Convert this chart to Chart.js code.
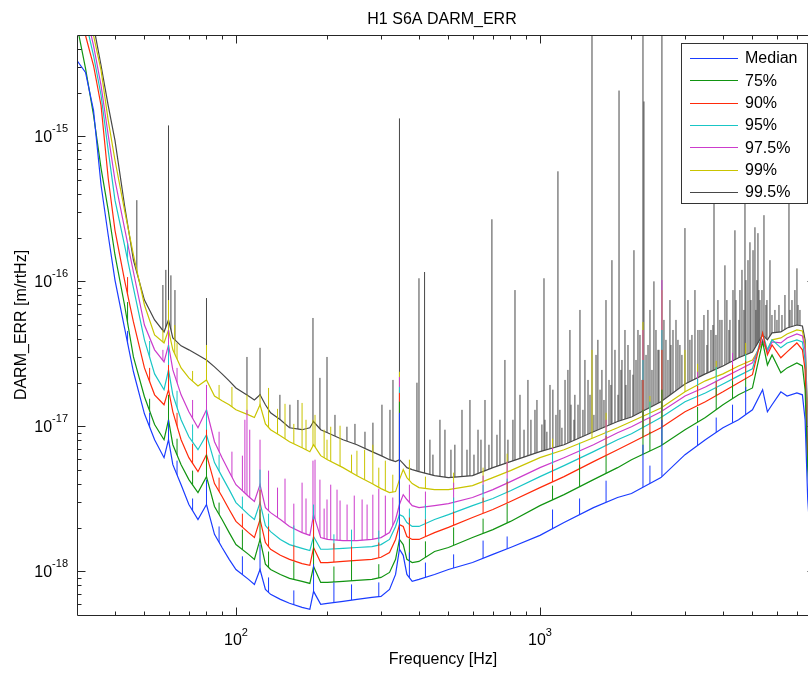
<!DOCTYPE html>
<html><head><meta charset="utf-8">
<script src="https://cdn.jsdelivr.net/npm/chart.js@4.4.1/dist/chart.umd.min.js"></script>
<style>
html,body{margin:0;padding:0;overflow:hidden;background:#fff;}
#wrap{position:relative;width:824px;height:674px;}
</style></head><body>
<div id="wrap"><canvas id="c"></canvas></div>
<script>
// ---------- data (m/rtHz) ----------
const freqs = [30,32,34,36,38,40,43,46,50,54,58,60,62,66,70,75,80,85,90,95,100,110,115,120,125,130,140,150,165,175,180,190,200,225,250,280,300,320,335,345,355,365,380,400,450,500,600,700,800,1000,1200,1500,1800,2000,2500,3000,3500,4000,4500,5000,5400,5600,5800,6200,6500,7000,7300,7450,7600,8000];

const median = [3.33e-15,2.76e-15,1.51e-15,4.60e-16,2.08e-16,1.02e-16,4.77e-17,2.38e-17,1.22e-17,8.09e-18,6.08e-18,8.09e-18,5.44e-18,3.96e-18,2.89e-18,2.28e-18,2.89e-18,1.80e-18,1.46e-18,1.21e-18,1.03e-18,8.80e-19,8.13e-19,1.03e-18,7.51e-19,6.94e-19,6.41e-19,6.02e-19,5.65e-19,5.47e-19,7.28e-19,5.92e-19,6.02e-19,6.21e-19,6.41e-19,6.62e-19,6.72e-19,7.51e-19,9.52e-19,1.42e-18,1.29e-18,9.52e-19,8.53e-19,8.80e-19,9.52e-19,1.03e-18,1.15e-18,1.31e-18,1.46e-18,1.77e-18,2.17e-18,2.75e-18,3.23e-18,3.44e-18,4.43e-18,6.38e-18,8.09e-18,9.78e-18,1.11e-17,1.30e-17,1.79e-17,1.26e-17,1.41e-17,1.73e-17,1.62e-17,1.70e-17,1.65e-17,1.11e-17,3.13e-18,6.41e-19];

const p75 = [5.80e-15,2.94e-15,1.40e-15,6.02e-16,3.10e-16,1.52e-16,6.87e-17,3.01e-17,1.60e-17,1.03e-17,8.09e-18,1.11e-17,7.47e-18,5.44e-18,4.29e-18,3.49e-18,4.50e-18,2.80e-18,2.28e-18,1.85e-18,1.53e-18,1.31e-18,1.21e-18,1.66e-18,1.12e-18,1.03e-18,9.52e-19,8.94e-19,8.53e-19,8.26e-19,1.08e-18,8.39e-19,8.39e-19,8.53e-19,8.66e-19,8.80e-19,9.08e-19,9.83e-19,1.21e-18,1.66e-18,1.53e-18,1.21e-18,1.15e-18,1.17e-18,1.37e-18,1.46e-18,1.71e-18,1.94e-18,2.21e-18,2.84e-18,3.38e-18,4.29e-18,5.19e-18,5.89e-18,7.35e-18,9.48e-18,1.15e-17,1.41e-17,1.65e-17,1.84e-17,3.82e-17,2.65e-17,3.11e-17,2.34e-17,2.53e-17,2.74e-17,2.61e-17,1.79e-17,5.03e-18,1.03e-18];

const p90 = [8.63e-15,4.96e-15,3.08e-15,1.63e-15,5.14e-16,2.25e-16,1.02e-16,5.25e-17,2.53e-17,1.65e-17,1.41e-17,1.79e-17,1.26e-17,8.09e-18,6.08e-18,4.87e-18,6.38e-18,4.03e-18,3.28e-18,2.67e-18,2.21e-18,1.85e-18,1.71e-18,2.28e-18,1.58e-18,1.42e-18,1.29e-18,1.21e-18,1.13e-18,1.10e-18,1.46e-18,1.15e-18,1.15e-18,1.17e-18,1.19e-18,1.21e-18,1.25e-18,1.35e-18,1.66e-18,2.10e-18,2.04e-18,1.74e-18,1.66e-18,1.66e-18,1.85e-18,2.01e-18,2.35e-18,2.67e-18,3.03e-18,3.78e-18,4.50e-18,5.71e-18,6.90e-18,7.71e-18,9.78e-18,1.26e-17,1.48e-17,1.73e-17,2.00e-17,2.27e-17,4.41e-17,3.11e-17,3.64e-17,2.97e-17,3.26e-17,3.76e-17,3.37e-17,2.45e-17,5.89e-18,1.21e-18];

const p95 = [1.09e-14,6.28e-15,3.61e-15,1.92e-15,8.01e-16,3.63e-16,1.78e-16,9.00e-17,3.95e-17,2.30e-17,1.79e-17,2.45e-17,1.65e-17,1.11e-17,8.48e-18,6.90e-18,8.75e-18,5.62e-18,4.50e-18,3.66e-18,2.98e-18,2.46e-18,2.28e-18,2.98e-18,2.07e-18,1.88e-18,1.66e-18,1.53e-18,1.44e-18,1.39e-18,1.74e-18,1.42e-18,1.42e-18,1.44e-18,1.46e-18,1.48e-18,1.53e-18,1.66e-18,2.04e-18,2.46e-18,2.39e-18,2.17e-18,2.04e-18,2.04e-18,2.28e-18,2.46e-18,2.84e-18,3.18e-18,3.60e-18,4.50e-18,5.36e-18,6.69e-18,8.09e-18,8.89e-18,1.15e-17,1.48e-17,1.70e-17,1.96e-17,2.23e-17,2.49e-17,4.41e-17,3.37e-17,3.95e-17,3.48e-17,3.76e-17,3.95e-17,3.82e-17,2.87e-17,6.90e-18,1.42e-18];

const p975 = [1.28e-14,7.36e-15,4.23e-15,2.24e-15,1.02e-15,4.98e-16,2.33e-16,1.16e-16,5.00e-17,3.37e-17,2.78e-17,3.64e-17,2.45e-17,1.65e-17,1.26e-17,9.78e-18,1.30e-17,7.83e-18,6.08e-18,4.87e-18,3.96e-18,3.28e-18,3.03e-18,3.96e-18,2.75e-18,2.54e-18,2.28e-18,2.04e-18,1.85e-18,1.77e-18,2.46e-18,1.71e-18,1.66e-18,1.63e-18,1.63e-18,1.66e-18,1.71e-18,1.85e-18,2.28e-18,2.89e-18,3.38e-18,3.13e-18,2.84e-18,2.75e-18,2.84e-18,2.93e-18,3.23e-18,3.66e-18,4.16e-18,5.19e-18,6.08e-18,7.47e-18,9.04e-18,9.94e-18,1.26e-17,1.62e-17,1.87e-17,2.16e-17,2.45e-17,2.74e-17,3.95e-17,3.26e-17,3.82e-17,3.76e-17,4.07e-17,4.34e-17,4.20e-17,3.37e-17,8.09e-18,1.66e-18];

const p99 = [1.63e-14,9.34e-15,4.96e-15,2.85e-15,1.29e-15,6.84e-16,3.10e-16,1.52e-16,6.87e-17,4.27e-17,3.76e-17,4.62e-17,3.37e-17,2.53e-17,2.16e-17,1.90e-17,2.09e-17,1.62e-17,1.50e-17,1.41e-17,1.30e-17,1.20e-17,1.15e-17,1.41e-17,1.04e-17,9.48e-18,8.62e-18,7.83e-18,7.12e-18,6.69e-18,7.47e-18,6.28e-18,5.89e-18,5.19e-18,4.57e-18,4.03e-18,3.72e-18,3.49e-18,3.55e-18,4.29e-18,5.03e-18,4.43e-18,4.03e-18,3.78e-18,3.66e-18,3.66e-18,3.90e-18,4.43e-18,4.95e-18,6.08e-18,6.90e-18,8.35e-18,9.78e-18,1.08e-17,1.34e-17,1.73e-17,2.06e-17,2.30e-17,2.61e-17,2.87e-17,3.76e-17,3.37e-17,3.95e-17,4.07e-17,4.34e-17,4.62e-17,4.55e-17,3.64e-17,9.48e-18,1.94e-18];

const p995 = [1.91e-14,1.09e-14,5.80e-15,3.08e-15,1.63e-15,9.39e-16,3.35e-16,1.40e-16,7.43e-17,5.42e-17,4.48e-17,5.42e-17,4.07e-17,3.59e-17,3.37e-17,3.11e-17,2.87e-17,2.57e-17,2.30e-17,2.06e-17,1.84e-17,1.62e-17,1.52e-17,1.65e-17,1.41e-17,1.24e-17,1.11e-17,9.78e-18,9.48e-18,9.78e-18,1.08e-17,9.48e-18,9.04e-18,8.09e-18,7.47e-18,6.69e-18,6.28e-18,5.89e-18,5.71e-18,5.89e-18,5.53e-18,5.19e-18,5.03e-18,4.87e-18,4.57e-18,4.43e-18,4.57e-18,5.19e-18,5.71e-18,6.69e-18,7.47e-18,9.18e-18,1.08e-17,1.16e-17,1.48e-17,1.96e-17,2.30e-17,2.61e-17,2.97e-17,3.26e-17,4.27e-17,3.95e-17,4.41e-17,4.48e-17,4.77e-17,5.00e-17,4.92e-17,3.95e-17,1.11e-17,2.28e-18];

// narrow spectral lines: frequency and peak value
const lineFreqsLow = [60,80,120,180,345,2182,2519];
const medianPeaks = [1.11e-17,4.29e-18,1.53e-18,1.12e-18,1.24e-17,7.47e-18,1.11e-17];
const p75Peaks    = [1.65e-17,6.38e-18,2.67e-18,1.66e-18,1.48e-17,1.30e-17,1.79e-17];
const p90Peaks    = [2.65e-17,9.48e-18,3.66e-18,2.28e-18,1.70e-17,2.09e-17,3.37e-17];
const p95Peaks    = [3.64e-17,1.30e-17,5.03e-18,2.89e-18,1.87e-17,2.87e-17,4.62e-17];

// comb of smaller lines shared by the lower percentiles
const combFreqs  = [44,52,64,72,88,105,128,155,210,240,295,372,420,520,650,780,1100,1350,1650,2300,3300,3800,4300,4750];
const medianComb = [4.55e-17,1.24e-17,5.80e-18,3.18e-18,2.04e-18,1.27e-18,9.08e-19,7.39e-19,8.39e-19,8.13e-19,8.39e-19,1.35e-18,1.15e-18,1.31e-18,1.63e-18,1.74e-18,2.67e-18,3.18e-18,4.22e-18,5.36e-18,1.01e-17,1.15e-17,1.41e-17,1.87e-17];
const p75Comb    = [7.20e-17,1.55e-17,8.22e-18,4.95e-18,2.98e-18,1.94e-18,1.37e-18,1.17e-18,1.08e-18,1.19e-18,1.12e-18,1.68e-18,1.61e-18,2.01e-18,2.31e-18,2.93e-18,3.90e-18,5.44e-18,6.28e-18,9.18e-18,1.36e-17,1.84e-17,2.06e-17,2.16e-17];
const p90Comb    = [1.07e-16,2.53e-17,1.24e-17,7.59e-18,4.43e-18,2.50e-18,2.04e-18,1.51e-18,1.56e-18,1.48e-18,1.58e-18,2.35e-18,2.28e-18,2.58e-18,3.23e-18,4.16e-18,5.44e-18,6.38e-18,8.62e-18,1.15e-17,1.90e-17,2.06e-17,2.65e-17,2.83e-17];
const p95Comb    = [1.83e-16,3.88e-17,1.76e-17,1.03e-17,6.38e-18,3.28e-18,2.50e-18,2.07e-18,1.80e-18,1.94e-18,1.91e-18,2.71e-18,2.89e-18,3.23e-18,3.96e-18,4.36e-18,6.69e-18,7.71e-18,9.33e-18,1.48e-17,2.13e-17,2.57e-17,2.65e-17,3.16e-17];

const p975PeakFreqs = [57.5,60,80,107,108.7,111,120,179.2,182,188.9,199.3,215,232,260,282,345,2182,2519,
  64,72,88,97,105,128,137,145,155,165,170,195,205,220,245,270,295,310,328,372,420,520,650,780,1100,1650,3300,4300];
const p975Peaks = [3.37e-17,4.62e-17,1.93e-17,1.11e-17,1.30e-17,9.48e-18,8.09e-18,5.80e-18,5.89e-18,4.29e-18,3.13e-18,3.66e-18,2.89e-18,3.13e-18,3.38e-18,2.19e-17,4.62e-17,1.02e-16,
  2.53e-17,1.52e-17,9.18e-18,6.69e-18,6.28e-18,4.95e-18,3.78e-18,4.36e-18,2.93e-18,4.09e-18,3.18e-18,2.71e-18,3.96e-18,3.08e-18,3.33e-18,2.89e-18,3.72e-18,3.33e-18,3.23e-18,3.96e-18,3.55e-18,4.09e-18,4.57e-18,5.71e-18,7.12e-18,1.11e-17,2.38e-17,3.21e-17];

const p99PeakFreqs = [57.5,60,62.9,80,108.7,120,179.2,182,199.3,240,282,345,1483,2182,2519,2999,
  64,72,88,97,128,137,145,155,165,170,195,205,220,250,265,295,310,328,372,420,520,650,780,1100,1650,2300,3300,3800,4750];
const p99Peaks = [4.62e-17,7.43e-17,5.00e-17,3.64e-17,1.65e-17,1.65e-17,1.11e-17,1.20e-17,8.09e-18,6.38e-18,7.47e-18,2.38e-17,3.37e-17,5.25e-17,8.71e-17,3.37e-17,
  3.76e-17,2.41e-17,1.93e-17,1.87e-17,1.84e-17,1.32e-17,1.43e-17,1.04e-17,1.45e-17,1.11e-17,9.48e-18,9.94e-18,1.01e-17,6.79e-18,6.90e-18,5.19e-18,5.80e-18,4.64e-18,5.89e-18,4.50e-18,4.79e-18,5.19e-18,6.48e-18,8.22e-18,1.24e-17,1.62e-17,2.70e-17,2.83e-17,3.76e-17];

const p995PeakFreqs = [47.2,57.5,58.8,60,61.1,63,80,108.7,120,179.2,188.9,199.3,231.8,282.2,302.2,345,393.9,400,417.3,434.6,468.9,487,525,554,588.5,625.5,659.5,695,738.6,767,827.7,859.6,913,963,1031,1079,1146,1209,1255,1303,1354,1406,1483,1551,1599,1649,1725,1765,1820,1904,1948,2038,2101,2182,2198,2301,2371,2408,2519,2597,2677,2802,2999,3114,3235,3360,3569,3737,3850,4060,4217,4379,4548,4725,4907,5096,5213,5293,5456,5710,5929,6253,6594,6745,7005,7166,
  139.5,150.5,159.9,211.7,246.3,265.7,321.1,328.5,977.5,1038.5,1103,1163,1236,1334,1439,1529,1687,1861,1978,2133,2267,2445,2558,2739,2887,3068,3309,3463,3652,3909,4121,4315,4619,4834,5022,5174,5374,5581,6113,6396,6898,
  1015,1054,1129,1181,1265,1294,1385,1461,1505,1576,1624,1712,1806,1847,1918,2023,2070,2166,2233,2336,2463,2637,2697,2844,2931,3162,3412,3543,3708,3793,3969,4185,4413,4514,4689,4760,4944,5134,5252,5538,5797,6021,6644,7061,
  444.6,509.6,575.4,606.7,639.7,679.6,722.1,784.7,815,886.3,934];
const p995Peaks = [3.63e-16,9.43e-17,1.20e-16,1.19e-15,1.10e-16,8.71e-17,7.67e-17,3.01e-17,3.48e-17,5.59e-17,2.16e-17,3.01e-17,9.94e-18,1.06e-17,1.41e-17,1.33e-15,2.00e-17,1.05e-16,1.16e-16,8.09e-18,1.11e-17,9.48e-18,7.47e-18,1.30e-17,1.52e-17,9.48e-18,1.52e-17,2.68e-16,1.11e-17,2.87e-17,8.71e-17,1.65e-17,2.09e-17,1.30e-17,1.05e-16,1.93e-17,5.74e-16,2.09e-17,4.62e-17,1.65e-17,6.35e-17,2.87e-17,6.28e-15,3.95e-17,2.45e-17,7.43e-17,1.40e-16,3.37e-17,2.07e-15,4.62e-17,3.64e-17,1.64e-16,4.62e-17,6.28e-15,1.74e-15,6.35e-17,1.00e-16,4.62e-17,6.28e-15,3.95e-17,7.43e-17,5.42e-17,2.33e-16,3.95e-17,8.71e-17,4.62e-17,6.35e-17,3.63e-16,7.43e-17,1.29e-16,5.42e-17,2.25e-16,8.71e-17,4.25e-16,1.86e-16,2.36e-16,2.15e-16,7.43e-17,2.86e-16,1.40e-16,6.35e-17,5.86e-17,8.01e-16,7.43e-17,1.23e-16,6.35e-17,
  1.65e-17,1.41e-17,1.52e-17,1.20e-17,1.04e-17,9.18e-18,1.30e-17,2.09e-17,1.52e-17,1.11e-17,1.79e-17,1.30e-17,2.45e-17,1.41e-17,2.09e-17,3.11e-17,2.09e-17,2.87e-17,2.45e-17,4.27e-17,3.64e-17,3.37e-17,5.42e-17,4.62e-17,3.64e-17,7.43e-17,4.62e-17,5.86e-17,4.62e-17,5.42e-17,7.43e-17,8.71e-17,1.20e-16,1.40e-16,1.64e-16,1.02e-16,8.71e-17,7.43e-17,6.87e-17,8.05e-17,8.71e-17,
  1.03e-17,9.18e-18,1.20e-17,9.78e-18,1.41e-17,1.11e-17,1.30e-17,1.65e-17,1.20e-17,1.79e-17,1.52e-17,1.93e-17,1.65e-17,2.45e-17,1.93e-17,2.27e-17,2.87e-17,2.09e-17,3.11e-17,2.45e-17,3.37e-17,2.87e-17,3.64e-17,3.95e-17,3.11e-17,4.27e-17,4.62e-17,3.64e-17,5.00e-17,4.27e-17,5.42e-17,4.62e-17,7.43e-17,5.42e-17,6.35e-17,1.02e-16,7.43e-17,6.35e-17,8.71e-17,6.87e-17,5.86e-17,5.42e-17,6.35e-17,6.87e-17,
  6.38e-18,6.90e-18,6.90e-18,6.38e-18,8.09e-18,7.47e-18,8.75e-18,8.09e-18,1.11e-17,9.48e-18,1.11e-17];

const labels = ['Median','75%','90%','95%','97.5%','99%','99.5%'];
const colors = ['#1a3cff','#119411','#ff2a0a','#19c6c6','#cc3ccc','#c9c400','#474747'];

// axis ticks
const xMin = 30, xMax = 8000, yMin = 5e-19, yMax = 5e-15;
const xMajorTicks = [100,1000];
const xMajorExp = ['2','3'];
const xMinorTicks = [40,50,60,70,80,90,200,300,400,500,600,700,800,900,2000,3000,4000,5000,6000,7000,8000];
const yMajorTicks = [1e-18,1e-17,1e-16,1e-15];
const yMajorExp = ['-18','-17','-16','-15'];
const yMinorTicks = [6e-19,7e-19,8e-19,9e-19,2e-18,3e-18,4e-18,5e-18,6e-18,7e-18,8e-18,9e-18,2e-17,3e-17,4e-17,5e-17,6e-17,7e-17,8e-17,9e-17,2e-16,3e-16,4e-16,5e-16,6e-16,7e-16,8e-16,9e-16,2e-15,3e-15,4e-15];

// ---------- build datasets ----------
const seriesVals = [median,p75,p90,p95,p975,p99,p995];
const peakFreqs = [
  lineFreqsLow.concat(combFreqs), lineFreqsLow.concat(combFreqs),
  lineFreqsLow.concat(combFreqs), lineFreqsLow.concat(combFreqs),
  p975PeakFreqs, p99PeakFreqs, p995PeakFreqs];
const peakVals = [
  medianPeaks.concat(medianComb), p75Peaks.concat(p75Comb),
  p90Peaks.concat(p90Comb), p95Peaks.concat(p95Comb),
  p975Peaks, p99Peaks, p995Peaks];

const datasets = [];
seriesVals.forEach((vals, s) => {
  datasets.push({
    label: labels[s],
    data: freqs.map((f,i) => ({x:f, y:vals[i]})),
    borderColor: colors[s], borderWidth: 1.2, pointRadius: 0, tension: 0, order: s, fill: false
  });
});
seriesVals.forEach((vals, s) => {
  const pts = [];
  peakFreqs[s].forEach((f, j) => {
    // each line rises from the axis floor; it is clipped to show only above its own curve
    pts.push({x:f, y:yMin}, {x:f, y:peakVals[s][j]}, {x:f, y:null});
  });
  datasets.push({
    label: labels[s] + ' lines', parentIndex: s,
    data: pts, borderColor: colors[s], borderWidth: 1, pointRadius: 0, tension: 0,
    order: s, spanGaps: false, fill: false
  });
});

// clip each set of spectral lines to the region above its own curve
const lineClip = {
  id: 'lineClip',
  beforeDatasetDraw(chart, args) {
    const ds = chart.data.datasets[args.index];
    if (ds.parentIndex === undefined) return;
    const pts = chart.getDatasetMeta(ds.parentIndex).data;
    const ctx = chart.ctx, a = chart.chartArea;
    ctx.save();
    ctx.beginPath();
    ctx.moveTo(pts[0].x, a.top - 2000);
    pts.forEach(p => ctx.lineTo(p.x, p.y));
    ctx.lineTo(pts[pts.length - 1].x, a.top - 2000);
    ctx.closePath();
    ctx.clip();
  },
  afterDatasetDraw(chart, args) {
    const ds = chart.data.datasets[args.index];
    if (ds.parentIndex === undefined) return;
    chart.ctx.restore();
  }
};

// ---------- MATLAB-style frame, ticks, labels, legend ----------
const FONT = '"Liberation Sans", Arial, Helvetica, sans-serif';
const matlabAxes = {
  id: 'matlabAxes',
  afterDraw(chart) {
    const {ctx, chartArea: a} = chart;
    const xs = chart.scales.x, ys = chart.scales.y;
    const L = Math.round(a.left) + 0.5, R = Math.round(a.right) + 0.5;
    const T = Math.round(a.top) + 0.5, B = Math.round(a.bottom) + 0.5;
    ctx.save();
    ctx.strokeStyle = '#262626'; ctx.lineWidth = 1;
    ctx.beginPath();
    ctx.rect(L, T, R - L, B - T);
    const xt = (v, len) => { const p = Math.round(xs.getPixelForValue(v)) + 0.5;
      ctx.moveTo(p, B); ctx.lineTo(p, B - len); ctx.moveTo(p, T); ctx.lineTo(p, T + len); };
    const yt = (v, len) => { const p = Math.round(ys.getPixelForValue(v)) + 0.5;
      ctx.moveTo(L, p); ctx.lineTo(L + len, p); ctx.moveTo(R, p); ctx.lineTo(R - len, p); };
    xMajorTicks.forEach(v => xt(v, 8)); xMinorTicks.forEach(v => xt(v, 4));
    yMajorTicks.forEach(v => yt(v, 8)); yMinorTicks.forEach(v => yt(v, 4));
    ctx.stroke();

    ctx.fillStyle = '#000';
    ctx.textBaseline = 'middle';
    yMajorTicks.forEach((v, i) => {
      const p = ys.getPixelForValue(v);
      ctx.font = '16px ' + FONT; const w1 = ctx.measureText('10').width;
      ctx.font = '11px ' + FONT; const w2 = ctx.measureText(yMajorExp[i]).width;
      const x0 = a.left - 9 - w1 - w2;
      ctx.font = '16px ' + FONT; ctx.textAlign = 'left'; ctx.fillText('10', x0, p + 1);
      ctx.font = '11px ' + FONT; ctx.fillText(yMajorExp[i], x0 + w1, p - 7);
    });
    xMajorTicks.forEach((v, i) => {
      const p = xs.getPixelForValue(v);
      ctx.font = '16px ' + FONT; const w1 = ctx.measureText('10').width;
      ctx.font = '11px ' + FONT; const w2 = ctx.measureText(xMajorExp[i]).width;
      const x0 = p - (w1 + w2) / 2;
      ctx.font = '16px ' + FONT; ctx.textAlign = 'left'; ctx.fillText('10', x0, a.bottom + 26);
      ctx.font = '11px ' + FONT; ctx.fillText(xMajorExp[i], x0 + w1, a.bottom + 18);
    });
    ctx.font = '16px ' + FONT; ctx.textAlign = 'center';
    ctx.fillText('H1 S6A DARM_ERR', 442, 20);
    ctx.fillText('Frequency [Hz]', 443, 660);
    ctx.save();
    ctx.translate(22, (a.top + a.bottom) / 2);
    ctx.rotate(-Math.PI / 2);
    ctx.fillText('DARM_ERR [m/rtHz]', 0, 0);
    ctx.restore();

    const lx = 681.5, ly = 43.5, lw = 126, lh = 160;
    ctx.fillStyle = '#fff'; ctx.fillRect(lx, ly, lw, lh);
    ctx.strokeStyle = '#333'; ctx.strokeRect(lx, ly, lw, lh);
    labels.forEach((lab, i) => {
      const y = 58 + i * 22.3;
      ctx.strokeStyle = colors[i]; ctx.lineWidth = 1.2;
      ctx.beginPath(); ctx.moveTo(690, Math.round(y) + 0.5); ctx.lineTo(738, Math.round(y) + 0.5); ctx.stroke();
      ctx.fillStyle = '#000'; ctx.font = '16px ' + FONT; ctx.textAlign = 'left';
      ctx.fillText(lab, 745, y + 1);
    });
    ctx.restore();
  }
};

Chart.defaults.font.family = FONT;
new Chart(document.getElementById('c'), {
  type: 'line',
  data: { datasets },
  options: {
    responsive: true, maintainAspectRatio: false, animation: false, events: [],
    devicePixelRatio: 1,
    layout: { padding: { left: 77, top: 35, right: 9.5, bottom: 59 } },
    scales: {
      x: { type: 'logarithmic', min: xMin, max: xMax, display: false },
      y: { type: 'logarithmic', min: yMin, max: yMax, display: false }
    },
    plugins: { legend: { display: false }, tooltip: { enabled: false }, title: { display: false } }
  },
  plugins: [lineClip, matlabAxes]
});
</script>
</body></html>
